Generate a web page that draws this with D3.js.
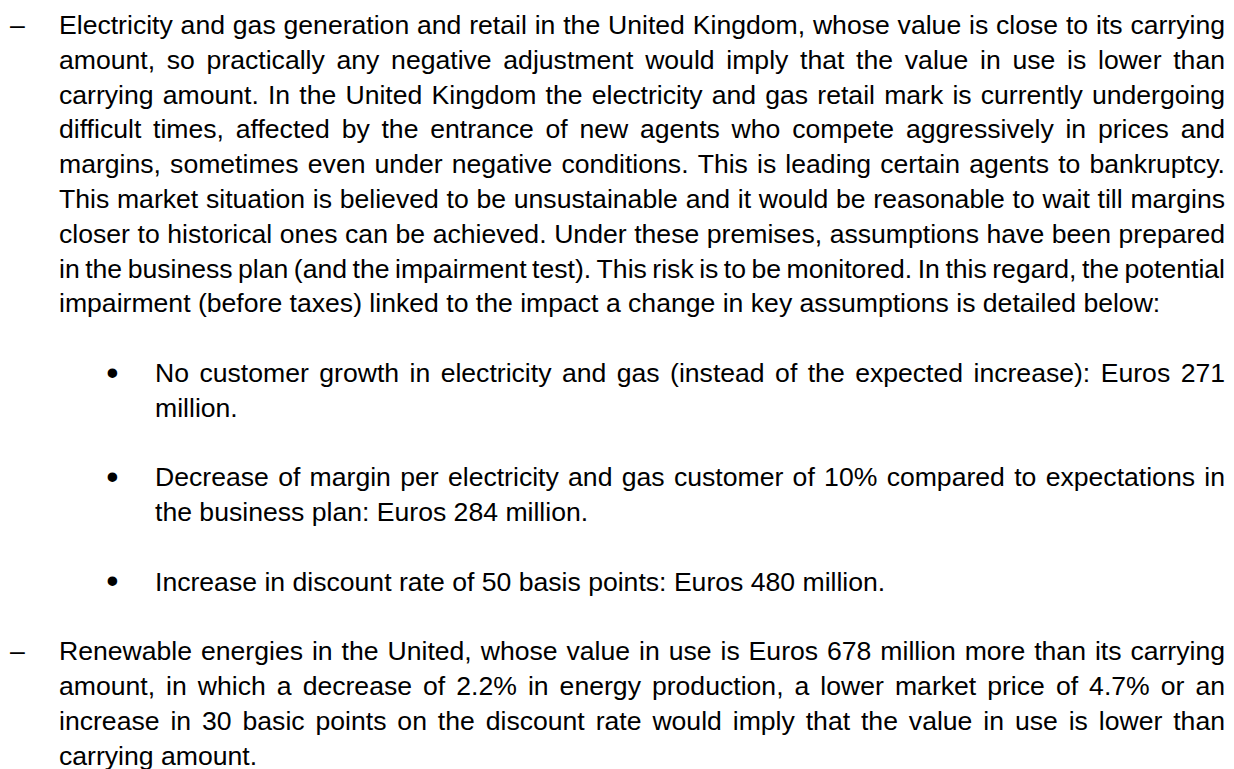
<!DOCTYPE html>
<html>
<head>
<meta charset="utf-8">
<script src="https://cdn.jsdelivr.net/npm/d3@7"></script>
<style>
  html, body { margin: 0; padding: 0; background: #ffffff; }
  svg { display: block; }
  text { font-family: "Liberation Sans", Arial, sans-serif; fill: #000000; }
</style>
</head>
<body>
<svg id="chart" width="1234" height="769"></svg>
<script>
// ---- Data: text lines as they appear (line breaks) ----
const para1Lines = [
  "Electricity and gas generation and retail in the United Kingdom, whose value is close to its carrying",
  "amount, so practically any negative adjustment would imply that the value in use is lower than",
  "carrying amount. In the United Kingdom the electricity and gas retail mark is currently undergoing",
  "difficult times, affected by the entrance of new agents who compete aggressively in prices and",
  "margins, sometimes even under negative conditions. This is leading certain agents to bankruptcy.",
  "This market situation is believed to be unsustainable and it would be reasonable to wait till margins",
  "closer to historical ones can be achieved. Under these premises, assumptions have been prepared",
  "in the business plan (and the impairment test). This risk is to be monitored. In this regard, the potential",
  "impairment (before taxes) linked to the impact a change in key assumptions is detailed below:"
];
const bullet1Lines = [
  "No customer growth in electricity and gas (instead of the expected increase): Euros 271",
  "million."
];
const bullet2Lines = [
  "Decrease of margin per electricity and gas customer of 10% compared to expectations in",
  "the business plan: Euros 284 million."
];
const bullet3Lines = [
  "Increase in discount rate of 50 basis points: Euros 480 million."
];
const para2Lines = [
  "Renewable energies in the United, whose value in use is Euros 678 million more than its carrying",
  "amount, in which a decrease of 2.2% in energy production, a lower market price of 4.7% or an",
  "increase in 30 basic points on the discount rate would imply that the value in use is lower than",
  "carrying amount."
];
const dashMarker = "\u2013";
const bulletMarker = "\u2022";

// ---- Layout ----
const FONT = 26.6;
const svg = d3.select("#chart");
const g = svg.append("g").style("font-size", FONT + "px");

// line slot -> baseline y
const y = d3.scaleLinear().domain([0, 21]).range([34, 764.8]);
// indentation levels -> x
const xText = d3.scaleOrdinal().domain(["dash", "para", "bulletDot", "bulletText"]).range([10, 59, 112.5, 155]);
const RIGHT = 1225;

// build blocks (with slot indices)
const blocks = [];
let slot = 0;
function addBlock(lines, kind, marker) {
  blocks.push({ lines, kind, marker, start: slot });
  slot += lines.length + 1; // blank line after
}
addBlock(para1Lines, "para", dashMarker);
addBlock(bullet1Lines, "bullet", bulletMarker);
addBlock(bullet2Lines, "bullet", bulletMarker);
addBlock(bullet3Lines, "bullet", bulletMarker);
addBlock(para2Lines, "para", dashMarker);

// measuring helper
const measurer = g.append("text").attr("x", -1000).attr("y", -1000);
function wordWidth(w) {
  measurer.text(w);
  return measurer.node().getComputedTextLength();
}

blocks.forEach(b => {
  const left = b.kind === "para" ? xText("para") : xText("bulletText");
  // marker
  if (b.kind === "para") {
    g.append("text").attr("x", xText("dash")).attr("y", y(b.start)).text(b.marker);
  } else {
    g.append("text").attr("x", xText("bulletDot")).attr("y", y(b.start) + 2.5)
      .attr("text-anchor", "middle").style("font-size", "35px").text(b.marker);
  }
  b.lines.forEach((line, i) => {
    const isLast = i === b.lines.length - 1;
    const yy = y(b.start + i);
    if (isLast) {
      g.append("text").attr("x", left).attr("y", yy).attr("xml:space", "preserve").text(line);
      return;
    }
    const words = line.split(" ");
    const widths = words.map(wordWidth);
    const total = d3.sum(widths);
    const gap = (RIGHT - left - total) / (words.length - 1);
    let cx = left;
    const t = g.append("text").attr("y", yy);
    words.forEach((w, k) => {
      t.append("tspan").attr("x", cx).attr("y", yy).text(w);
      cx += widths[k] + gap;
    });
  });
});
measurer.remove();
</script>
</body>
</html>
